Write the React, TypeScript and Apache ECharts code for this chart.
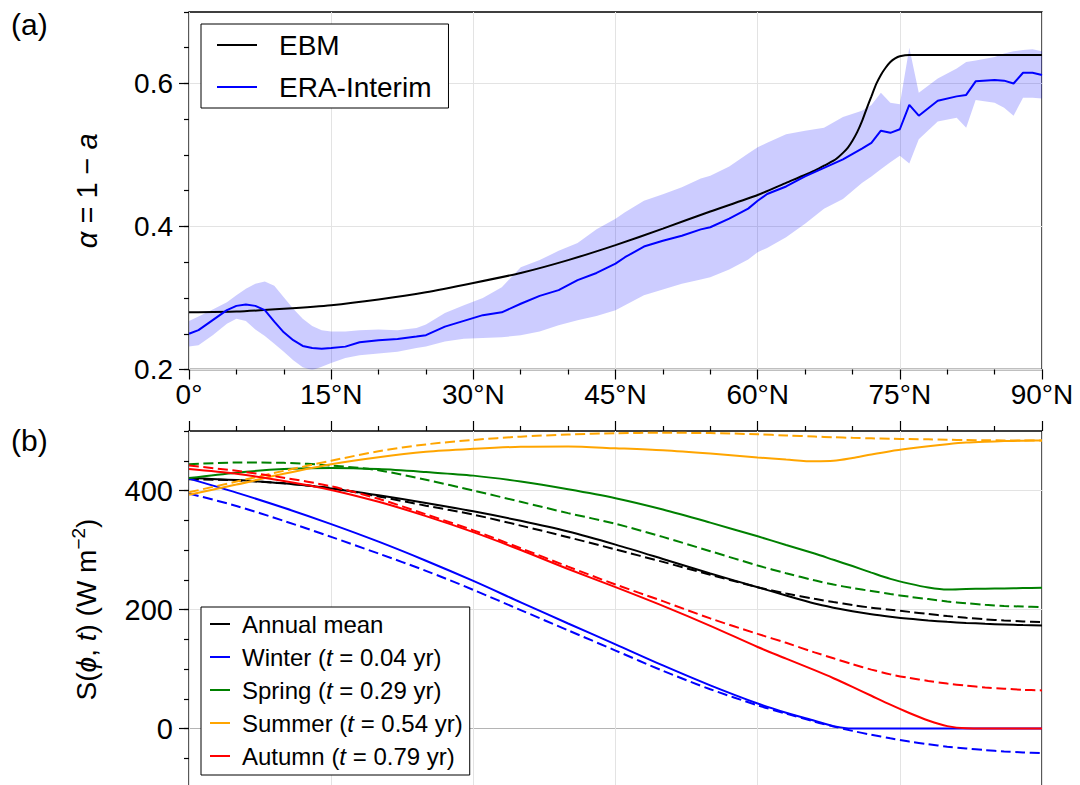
import { useEffect, useRef } from "react";
import * as echarts from "echarts";

const FONT = "'Liberation Sans', Arial, Helvetica, sans-serif";
const GRID_COLOR = "#e3e3e3";
const ZERO_COLOR = "#b4b4b4";
const BAND_FILL = "rgba(0,0,255,0.2)";

// Panel (a): EBM albedo profile vs latitude
const EBM_LAT = [0, 5, 10, 15, 20, 25, 30, 35, 40, 45, 50, 55, 60, 63, 66, 67, 68, 68.5, 69, 69.5, 70, 70.5, 71, 71.5, 72, 72.5, 73, 73.5, 74, 74.5, 75, 76, 80, 85, 90];
const EBM_VAL = [0.280, 0.281, 0.285, 0.290, 0.298, 0.308, 0.321, 0.335, 0.353, 0.374, 0.397, 0.421, 0.444, 0.461, 0.478, 0.485, 0.492, 0.497, 0.503, 0.510, 0.520, 0.532, 0.547, 0.565, 0.582, 0.599, 0.612, 0.622, 0.630, 0.635, 0.638, 0.640, 0.640, 0.640, 0.640];

// Panel (a): ERA-Interim zonal mean and its spread
const ERA_LAT = [0, 1, 2.5, 4, 5, 6, 7, 8, 9, 10, 11, 12, 13, 14, 15, 16.5, 18, 20, 22, 24, 25, 27, 29, 31, 33, 35, 37, 39, 41, 43, 45, 46, 48, 50, 52, 54, 55, 57, 59, 60, 61, 63, 65, 67, 69, 71, 72, 73, 74, 75, 76, 77, 79, 81, 82, 83, 85, 86, 87, 88, 89, 90];
const ERA_MEAN = [
  0.250, 0.255, 0.269, 0.283, 0.289, 0.291, 0.289, 0.283, 0.267, 0.252,
  0.241, 0.233, 0.230, 0.229, 0.230, 0.232, 0.238, 0.241, 0.2425, 0.246,
  0.248, 0.260, 0.268, 0.276, 0.280, 0.292, 0.303, 0.311, 0.325, 0.335,
  0.348, 0.357, 0.372, 0.380, 0.387, 0.396, 0.399, 0.411, 0.425, 0.436,
  0.4455, 0.456, 0.470, 0.482, 0.494, 0.509, 0.517, 0.534, 0.531, 0.536,
  0.570, 0.555, 0.576, 0.582, 0.584, 0.603, 0.605, 0.604, 0.600, 0.615,
  0.615, 0.612,
];
const ERA_LO = [
  0.232, 0.234, 0.248, 0.264, 0.271, 0.268, 0.256, 0.247, 0.236, 0.225,
  0.213, 0.203, 0.199, 0.204, 0.209, 0.216, 0.220, 0.2225, 0.225, 0.230,
  0.232, 0.239, 0.243, 0.244, 0.245, 0.248, 0.253, 0.262, 0.269, 0.275,
  0.283, 0.290, 0.304, 0.312, 0.320, 0.326, 0.329, 0.340, 0.354, 0.364,
  0.370, 0.385, 0.404, 0.425, 0.4385, 0.461, 0.470, 0.480, 0.490, 0.499,
  0.488, 0.522, 0.547, 0.552, 0.538, 0.577, 0.573, 0.566, 0.555, 0.580,
  0.580, 0.579,
];
const ERA_HI = [
  0.268, 0.274, 0.284, 0.294, 0.304, 0.313, 0.320, 0.323, 0.317, 0.301,
  0.285, 0.271, 0.261, 0.255, 0.253, 0.253, 0.255, 0.256, 0.255, 0.258,
  0.263, 0.279, 0.290, 0.300, 0.315, 0.343, 0.353, 0.366, 0.377, 0.396,
  0.411, 0.420, 0.436, 0.445, 0.455, 0.467, 0.471, 0.484, 0.502, 0.511,
  0.517, 0.529, 0.534, 0.538, 0.553, 0.562, 0.570, 0.587, 0.573, 0.571,
  0.650, 0.587, 0.607, 0.621, 0.630, 0.632, 0.637, 0.642, 0.645, 0.647,
  0.648, 0.645,
];

// Panel (b): insolation S(phi, t); solid and dashed curves per season
const S_LAT = [0, 5, 10, 15, 20, 25, 30, 35, 40, 45, 50, 55, 60, 63, 66, 68, 70, 72, 74, 76, 78, 80, 82, 84, 86, 88, 90];
const ANNUAL = [421, 417.5, 412, 403.5, 392, 379, 365, 349, 331, 309, 285, 260.5, 237.5, 223.5, 210, 203, 197, 192, 188, 184.5, 181.7, 179.3, 177.5, 176, 174.8, 173.8, 173];
const ANNUAL_DASH = [419, 417, 412, 404, 390, 374.5, 359.5, 341, 321.5, 301, 280, 258.5, 237.5, 227, 218, 212.5, 207.5, 203, 199.5, 196, 192.5, 189, 186, 183.5, 181.5, 180, 179];
const WINTER = [420, 396.5, 371, 343.5, 314, 282, 248, 212, 176.5, 141.5, 106, 72.5, 42, 26.5, 13, 4, 0, 0, 0, 0, 0, 0, 0, 0, 0, 0, 0];
const WINTER_DASH = [395, 374, 349, 322, 294, 265, 233, 199, 165, 131, 97, 66, 39, 25, 11.5, 3.5, -4, -10.5, -16.5, -22, -26.5, -30.5, -33.5, -36.3, -38.5, -40.2, -41.5];
const SPRING = [421, 430, 436, 438, 436, 431, 425, 415, 402, 387, 368, 346, 323, 308.5, 294, 283.5, 273, 262, 251.5, 243.5, 237, 233.5, 234.3, 235, 235.5, 236, 236.5];
const SPRING_DASH = [444, 447, 446.5, 442, 434, 418, 400, 381, 362, 344, 322, 298, 274, 261, 249, 242, 236, 231, 226, 221.5, 217.5, 213.5, 210.5, 208, 206, 205, 204];
const SUMMER = [393, 410, 428, 444, 456, 465, 470, 473.5, 474, 471, 467.5, 462, 455.5, 452, 449, 449.8, 454.6, 460.6, 466, 470.5, 474.5, 477.8, 480.5, 482, 483, 483.7, 484];
const SUMMER_DASH = [397, 415, 433, 450, 466, 477.5, 485, 490.5, 494, 496.3, 497, 496.5, 494.5, 492.5, 490.7, 489.5, 488.5, 487.7, 487, 486.5, 486, 485.3, 484.8, 484.5, 484.2, 484, 484];
const AUTUMN = [436, 428, 416, 401, 381, 357, 330, 300, 268, 237.5, 206, 172.5, 137, 117.5, 98, 84.5, 70, 55, 40, 26, 13.5, 4, 0.3, 0, 0, 0, 0];
const AUTUMN_DASH = [442, 433, 421.5, 407, 386, 360, 333, 303, 272, 242, 214, 185, 159, 144, 128, 118, 108, 99, 91, 85, 80, 75.5, 72, 69, 67, 65, 64];

// Axis ticks
const LAT_TICKS = { min: 0, max: 90, step: 15 };
const A_MAJOR = [0.2, 0.4, 0.6];
const S_MAJOR = [0, 200, 400];

const pairs = (xs: number[], ys: number[]) => xs.map((x, i) => [x, ys[i]]);

const tickStyle = { color: "#000", width: 1.2 };

function latLabel(v: number) {
  return v === 0 ? "0°" : `${v}°N`;
}

// Shaded spread: upper edge forward, lower edge back, through the axis scales
function renderBand(_params: any, api: any) {
  const upper = ERA_LAT.map((x, i) => api.coord([x, ERA_HI[i]]));
  const lower = ERA_LAT.map((x, i) => api.coord([x, ERA_LO[i]])).reverse();
  return {
    type: "polygon",
    shape: { points: upper.concat(lower) },
    style: { fill: BAND_FILL, stroke: "none" },
    silent: true,
  };
}

function buildOption() {
  const seasonal = [
    { name: "Annual mean", color: "#000000", solid: ANNUAL, dash: ANNUAL_DASH },
    { name: "Winter (t = 0.04 yr)", color: "#0000ff", solid: WINTER, dash: WINTER_DASH },
    { name: "Spring (t = 0.29 yr)", color: "#008000", solid: SPRING, dash: SPRING_DASH },
    { name: "Summer (t = 0.54 yr)", color: "#ffa500", solid: SUMMER, dash: SUMMER_DASH },
    { name: "Autumn (t = 0.79 yr)", color: "#ff0000", solid: AUTUMN, dash: AUTUMN_DASH },
  ];

  const series: any[] = [
    {
      type: "custom",
      xAxisIndex: 0,
      yAxisIndex: 0,
      data: [[ERA_LAT[0], ERA_MEAN[0]]],
      renderItem: renderBand,
      clip: true,
      silent: true,
      z: 1,
    },
    {
      name: "EBM",
      type: "line",
      xAxisIndex: 0,
      yAxisIndex: 0,
      data: pairs(EBM_LAT, EBM_VAL),
      symbol: "none",
      smooth: 0.2,
      color: "#000000",
      lineStyle: { width: 2, color: "#000000" },
      z: 3,
    },
    {
      name: "ERA-Interim",
      type: "line",
      xAxisIndex: 0,
      yAxisIndex: 0,
      data: pairs(ERA_LAT, ERA_MEAN),
      symbol: "none",
      color: "#0000ff",
      lineStyle: { width: 2, color: "#0000ff" },
      z: 3,
    },
  ];

  seasonal.forEach((s) => {
    series.push({
      name: s.name + " (approx.)",
      type: "line",
      xAxisIndex: 1,
      yAxisIndex: 2,
      data: pairs(S_LAT, s.dash),
      symbol: "none",
      smooth: 0.3,
      color: s.color,
      lineStyle: { width: 2, color: s.color, type: [10, 4.5] },
      z: 3,
    });
    series.push({
      name: s.name,
      type: "line",
      xAxisIndex: 1,
      yAxisIndex: 2,
      data: pairs(S_LAT, s.solid),
      symbol: "none",
      smooth: 0.3,
      color: s.color,
      lineStyle: { width: 2, color: s.color },
      z: 3,
    });
  });

  const T = "rgba(0,0,0,0)";

  const xCommon = (gridIndex: number, position: "top" | "bottom", showLabel: boolean) => ({
    type: "value",
    gridIndex,
    position,
    min: LAT_TICKS.min,
    max: LAT_TICKS.max,
    interval: LAT_TICKS.step,
    axisLine: { show: false, onZero: false },
    axisTick: { show: true, inside: false, length: 10, lineStyle: tickStyle },
    minorTick: { show: true, splitNumber: 3, length: 5, lineStyle: tickStyle },
    axisLabel: {
      show: showLabel,
      formatter: latLabel,
      fontSize: 28,
      fontFamily: FONT,
      color: "#000",
      margin: 11,
    },
    splitLine: { show: true, lineStyle: { color: GRID_COLOR, width: 1 } },
  });

  const majorTickAxis = (gridIndex: number, min: number, max: number, interval: number, values: number[]) => ({
    type: "value",
    gridIndex,
    position: "left",
    offset: 0,
    min,
    max,
    interval,
    axisLine: { show: false, onZero: false },
    axisTick: { show: true, length: 10, lineStyle: tickStyle, customValues: values },
    axisLabel: { show: false },
    splitLine: { show: false },
  });

  const legendBox = {
    orient: "vertical",
    selectedMode: false,
    icon: "rect",
    itemHeight: 2,
    borderColor: "#000",
    borderWidth: 1,
    borderRadius: 0,
    backgroundColor: "#ffffff",
  };

  const option: any = {
    animation: false,
    backgroundColor: "#ffffff",
    textStyle: { fontFamily: FONT },
    grid: [
      { left: 189, top: 12, width: 853, height: 357.5, show: true, borderColor: "#000", borderWidth: 1.3, backgroundColor: "transparent" },
      { left: 189, top: 431, width: 853, height: 357, show: true, borderColor: "#000", borderWidth: 1.3, backgroundColor: "transparent" },
    ],
    xAxis: [xCommon(0, "bottom", true), xCommon(1, "top", false)],
    yAxis: [
      {
        type: "value",
        gridIndex: 0,
        position: "left",
        min: 0.2,
        max: 0.7,
        interval: 0.05,
        axisLine: { show: false, onZero: false },
        axisTick: { show: true, length: 5, lineStyle: tickStyle },
        axisLabel: {
          formatter: (v: number) => (A_MAJOR.some((t) => Math.abs(v - t) < 1e-6) ? v.toFixed(1) : ""),
          fontSize: 28,
          fontFamily: FONT,
          color: "#000",
          margin: 16,
        },
        splitLine: { show: true, lineStyle: { color: [GRID_COLOR, T, T, T], width: 1 } },
        name: "{i|α} = 1 − {i|a}",
        nameLocation: "middle",
        nameGap: 88,
        nameTextStyle: {
          fontSize: 29,
          fontFamily: FONT,
          color: "#000",
          rich: { i: { fontStyle: "italic", fontSize: 29, fontFamily: FONT, color: "#000" } },
        },
      },
      majorTickAxis(0, 0.2, 0.7, 0.05, A_MAJOR),
      {
        type: "value",
        gridIndex: 1,
        position: "left",
        min: -100,
        max: 500,
        interval: 50,
        axisLine: { show: false, onZero: false },
        axisTick: { show: true, length: 5, lineStyle: tickStyle },
        axisLabel: {
          formatter: (v: number) => (S_MAJOR.includes(v) ? String(v) : ""),
          fontSize: 29,
          fontFamily: FONT,
          color: "#000",
          margin: 16,
        },
        splitLine: {
          show: true,
          lineStyle: { color: [T, T, ZERO_COLOR, T, T, T, GRID_COLOR, T, T, T, GRID_COLOR, T], width: 1 },
        },
        name: "{n|S(}{i|ϕ}{n|, }{i|t}{n|) (W m}{s|−2}{n|)}",
        nameLocation: "middle",
        nameGap: 86,
        nameTextStyle: {
          fontSize: 28,
          fontFamily: FONT,
          color: "#000",
          rich: {
            n: { fontSize: 28, fontFamily: FONT, color: "#000", lineHeight: 34 },
            i: { fontStyle: "italic", fontSize: 28, fontFamily: FONT, color: "#000", lineHeight: 34 },
            s: { fontSize: 19, fontFamily: FONT, color: "#000", lineHeight: 18, verticalAlign: "top" },
          },
        },
      },
      majorTickAxis(1, -100, 500, 50, S_MAJOR),
    ],
    legend: [
      {
        ...legendBox,
        data: ["EBM", "ERA-Interim"],
        left: 201,
        top: 24,
        itemWidth: 40,
        itemGap: 12,
        padding: [6, 17, 6, 16],
        textStyle: { fontSize: 28, fontFamily: FONT, color: "#000", lineHeight: 30, padding: [0, 0, 0, 17] },
      },
      {
        ...legendBox,
        data: seasonal.map((s) => s.name),
        left: 201,
        top: 607,
        itemWidth: 20,
        itemGap: 7,
        padding: [4, 7, 6, 9],
        formatter: (name: string) => name.replace("(t =", "({it|t} ="),
        textStyle: {
          fontSize: 24,
          fontFamily: FONT,
          color: "#000",
          lineHeight: 26,
          padding: [0, 0, 0, 7],
          rich: { it: { fontStyle: "italic", fontSize: 24, fontFamily: FONT, color: "#000", lineHeight: 26 } },
        },
      },
    ],
    graphic: [
      { type: "text", left: 11, top: 9, style: { text: "(a)", fontSize: 30, fontFamily: FONT, fill: "#000" } },
      { type: "text", left: 11, top: 425, style: { text: "(b)", fontSize: 30, fontFamily: FONT, fill: "#000" } },
    ],
    series,
  };
  return option;
}

export default function App() {
  const ref = useRef<HTMLDivElement>(null);
  useEffect(() => {
    if (!ref.current) return;
    const chart = echarts.init(ref.current, undefined, { renderer: "svg" });
    chart.setOption(buildOption());
    return () => chart.dispose();
  }, []);
  return (
    <div
      style={{
        position: "fixed",
        left: 0,
        top: 0,
        width: 1080,
        height: 785,
        overflow: "hidden",
        background: "#ffffff",
      }}
    >
      <div ref={ref} style={{ width: 1080, height: 800 }} />
    </div>
  );
}
